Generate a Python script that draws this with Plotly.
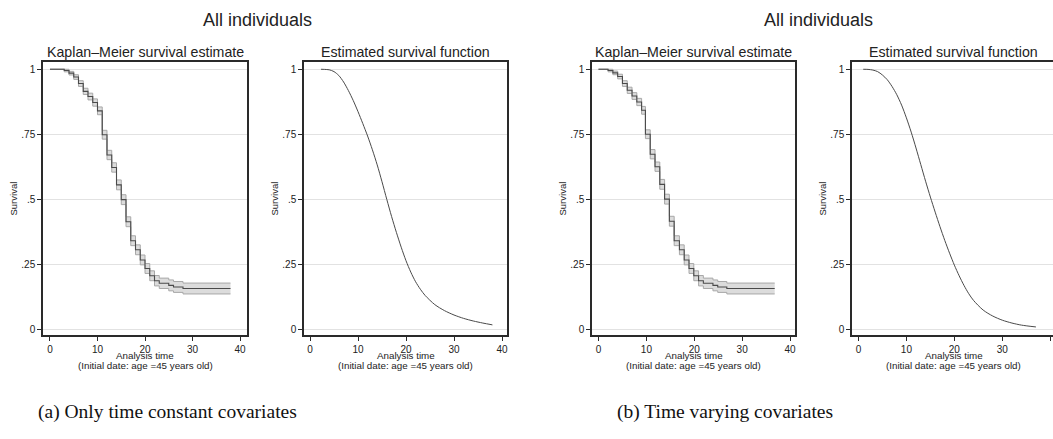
import plotly.graph_objects as go

W, H = 1053, 439
FONT = "Liberation Sans, Arial, sans-serif"
SERIF = "Liberation Serif, Times New Roman, serif"
LINE = "#4a4a4a"
CI_LINE = "#a8a8a8"
CI_FILL = "#dcdcdc"
GRID = "#e2e2e2"

# (a) Kaplan-Meier estimate with confidence band
km_a_time = [0, 3, 4, 5, 6, 7, 8, 9, 10, 11, 12, 13, 14, 15, 16, 17, 18, 19, 20, 21, 22, 23, 25, 26, 28, 38]
km_a_surv = [1.0, 0.995, 0.985, 0.970, 0.945, 0.915, 0.895, 0.872, 0.840, 0.748, 0.670, 0.622, 0.555, 0.498,
             0.413, 0.340, 0.305, 0.266, 0.233, 0.205, 0.186, 0.176, 0.168, 0.162, 0.156, 0.156]
km_a_upper = [1.0, 1.0, 0.992, 0.979, 0.956, 0.927, 0.908, 0.886, 0.855, 0.765, 0.688, 0.640, 0.574, 0.517,
              0.432, 0.359, 0.324, 0.285, 0.252, 0.224, 0.206, 0.196, 0.189, 0.183, 0.177, 0.177]
km_a_lower = [1.0, 0.990, 0.978, 0.961, 0.934, 0.903, 0.882, 0.858, 0.825, 0.731, 0.652, 0.604, 0.536, 0.479,
              0.394, 0.321, 0.286, 0.247, 0.214, 0.186, 0.166, 0.156, 0.147, 0.141, 0.135, 0.135]

# (a) estimated parametric survival function
est_a_time = [2.3, 3, 4, 5, 6, 7, 8, 9, 10, 11, 12, 13, 14, 15, 16, 17, 18, 19, 20, 21, 22, 23, 24,
              26, 28, 30, 32, 34, 36, 38]
est_a_surv = [1.0, 0.9995, 0.998, 0.991, 0.976, 0.951, 0.918, 0.880, 0.837, 0.791, 0.743, 0.690, 0.632, 0.567,
              0.499, 0.433, 0.372, 0.315, 0.263, 0.219, 0.182, 0.153, 0.129, 0.094, 0.071, 0.054, 0.041,
              0.031, 0.023, 0.016]

# (b) Kaplan-Meier estimate with confidence band
km_b_time = [0, 2, 3, 4, 5, 6, 7, 8, 9, 9.8, 10.8, 11.8, 12.8, 13.8, 14.8, 15.8, 16.9, 17.9, 18.9, 19.9, 20.9,
             21.9, 23.9, 24.9, 26.8, 36.8]
km_b_surv = [1.0, 0.995, 0.986, 0.972, 0.945, 0.919, 0.897, 0.874, 0.842, 0.750, 0.673, 0.625, 0.557, 0.500,
             0.415, 0.340, 0.305, 0.266, 0.233, 0.205, 0.186, 0.176, 0.168, 0.162, 0.156, 0.156]
km_b_upper = [1.0, 1.0, 0.993, 0.981, 0.956, 0.931, 0.910, 0.888, 0.857, 0.767, 0.691, 0.643, 0.576, 0.519,
              0.434, 0.359, 0.324, 0.285, 0.252, 0.224, 0.206, 0.196, 0.189, 0.183, 0.177, 0.177]
km_b_lower = [1.0, 0.990, 0.979, 0.963, 0.934, 0.907, 0.884, 0.860, 0.827, 0.733, 0.655, 0.607, 0.538, 0.481,
              0.396, 0.321, 0.286, 0.247, 0.214, 0.186, 0.166, 0.156, 0.147, 0.141, 0.135, 0.135]

# (b) estimated parametric survival function
est_b_time = [1, 2, 3, 4, 5, 6, 7, 8, 9, 10, 11, 12, 13, 14, 15, 16, 17, 18, 19, 20, 21, 22, 23, 24,
              26, 28, 30, 32, 34, 37]
est_b_surv = [1.0, 0.9995, 0.997, 0.991, 0.978, 0.960, 0.934, 0.902, 0.862, 0.813, 0.758, 0.697, 0.633, 0.569,
              0.508, 0.450, 0.394, 0.341, 0.292, 0.246, 0.205, 0.168, 0.136, 0.110, 0.073, 0.050, 0.034,
              0.023, 0.015, 0.008]

y_ticks = [0, 0.25, 0.5, 0.75, 1]
y_tick_labels = ["0", ".25", ".5", ".75", "1"]
x_ticks = [0, 10, 20, 30, 40]

panel_titles = ["Kaplan\u2013Meier survival estimate", "Estimated survival function",
                "Kaplan\u2013Meier survival estimate", "Estimated survival function"]
group_title = "All individuals"
captions = ["(a) Only time constant covariates", "(b) Time varying covariates"]

# panel frames in pixels: (left, right, x-range)
frames = [(43, 247, [-1.47, 41.47]), (304, 507, [-1.25, 41.04]),
          (592, 795, [-1.36, 41.04]), (852, 1055, [-1.34, 40.56])]
TOP, BOTTOM = 62, 335
y_range = [-0.023, 1.028]


def px(x):
    return x / W


def py(y):
    return 1 - y / H


fig = go.Figure()


def add_km(idx, t, s, lo, up):
    ax = "" if idx == 1 else str(idx)
    common = dict(x=t, mode="lines", hoverinfo="skip", showlegend=False,
                  xaxis="x" + ax, yaxis="y" + ax)
    fig.add_trace(go.Scatter(y=up, line=dict(color=CI_LINE, width=1, shape="hv"), **common))
    fig.add_trace(go.Scatter(y=lo, line=dict(color=CI_LINE, width=1, shape="hv"),
                             fill="tonexty", fillcolor=CI_FILL, **common))
    fig.add_trace(go.Scatter(y=s, line=dict(color=LINE, width=1.1, shape="hv"), **common))


def add_est(idx, t, s):
    ax = str(idx)
    fig.add_trace(go.Scatter(x=t, y=s, mode="lines", line=dict(color=LINE, width=1, shape="spline", smoothing=0.8),
                             hoverinfo="skip", showlegend=False, xaxis="x" + ax, yaxis="y" + ax))


add_km(1, km_a_time, km_a_surv, km_a_lower, km_a_upper)
add_est(2, est_a_time, est_a_surv)
add_km(3, km_b_time, km_b_surv, km_b_lower, km_b_upper)
add_est(4, est_b_time, est_b_surv)

layout = dict(template="none", width=W, height=H, margin=dict(l=0, r=0, t=0, b=0, autoexpand=False),
              paper_bgcolor="white", plot_bgcolor="white",
              font=dict(family=FONT, color="#222"))
axis_line = dict(showline=True, mirror=True, linecolor="#2a2a2a", linewidth=1.5, automargin=False,
                 ticks="outside", ticklen=4, tickwidth=1, tickcolor="#2a2a2a",
                 tickfont=dict(size=10, family=FONT, color="#222"), zeroline=False)


def note(text, x, y, size, family=FONT, color="#222", angle=0):
    return dict(text=text, x=px(x), y=py(y), xref="paper", yref="paper", xanchor="center", yanchor="middle",
                textangle=angle, showarrow=False, font=dict(size=size, family=family, color=color))


annotations = []
for i, (l, r, xr) in enumerate(frames, start=1):
    k = "" if i == 1 else str(i)
    layout["xaxis" + k] = dict(domain=[px(l), min(px(r), 1.0)], range=xr, anchor="y" + k,
                               tickvals=x_ticks, showgrid=False, **axis_line)
    layout["yaxis" + k] = dict(domain=[py(BOTTOM), py(TOP)], range=y_range, anchor="x" + k,
                               tickvals=y_ticks, ticktext=y_tick_labels, showgrid=True,
                               gridcolor=GRID, gridwidth=1, **axis_line)
    cx = (l + r) / 2
    annotations.append(note(panel_titles[i - 1], cx, 52, 14.2))
    annotations.append(note("Analysis time", cx, 355, 9.8))
    annotations.append(note("(Initial date: age =45 years old)", cx, 365, 9.8))
    annotations.append(note("Survival", l - 30, (TOP + BOTTOM) / 2, 9.5, angle=-90))

for cx in (257, 818):
    annotations.append(note(group_title, cx, 20, 18))
# the sub-captions sit under the LaTeX subfigure boxes, left of the (overflowing) graphs' centres
for cx, txt in zip((167, 725), captions):
    annotations.append(note(txt, cx, 412, 19.5, family=SERIF, color="#111"))

layout["annotations"] = annotations
fig.update_layout(**layout)
# the page body has a default 8px margin; remove it so the figure fills the window
fig.write_html("out.html", post_script="document.body.style.margin='0';",
               config={"displayModeBar": False})
